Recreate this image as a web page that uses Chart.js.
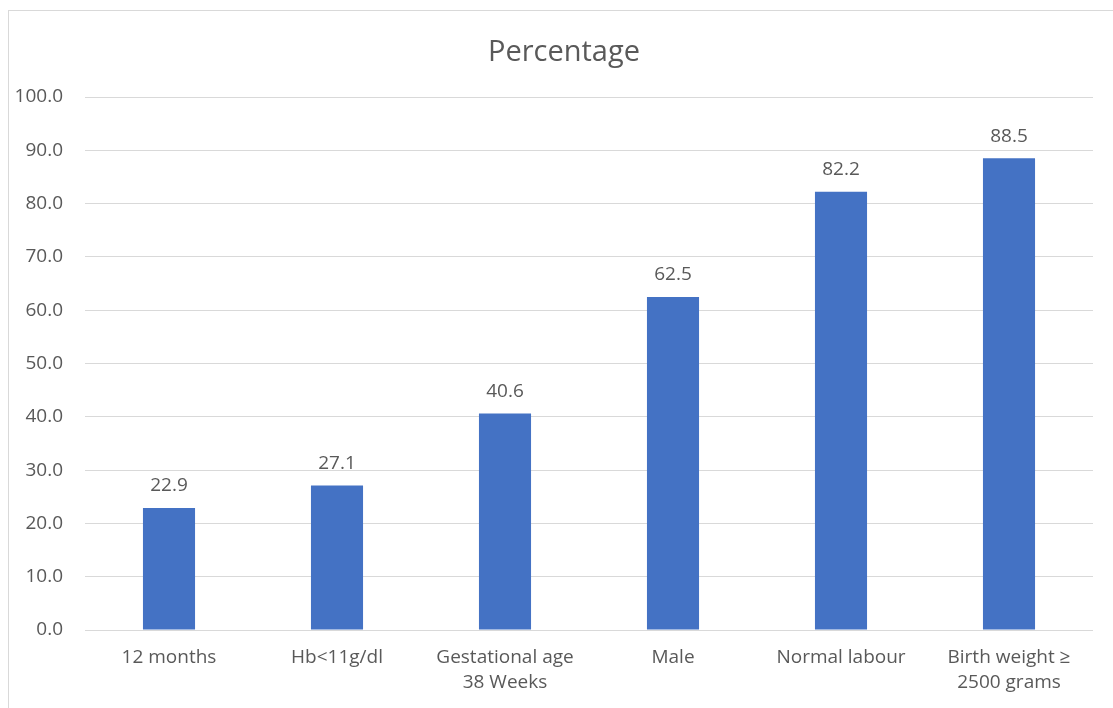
<!DOCTYPE html>
<html>
<head>
<meta charset="utf-8">
<script src="https://cdn.jsdelivr.net/npm/chart.js@4/dist/chart.umd.min.js"></script>
<style>
  html, body { margin: 0; padding: 0; background: #ffffff; overflow: hidden; }
  #wrap { position: relative; width: 1113px; height: 708px; }
  #frame { position: absolute; left: 8px; top: 10px; width: 1120px; height: 720px; border: 1px solid #d9d9d9; box-sizing: border-box; pointer-events: none; }
  canvas { position: absolute; left: 0; top: 0; }
</style>
</head>
<body>
<div id="wrap">
  <div id="frame"></div>
  <canvas id="chart" width="1113" height="708"></canvas>
</div>
<script>
const categories = [
  '12 months',
  'Hb<11g/dl',
  ['Gestational age', '38 Weeks'],
  'Male',
  'Normal labour',
  ['Birth weight \u2265', '2500 grams']
];
const percentages = [22.9, 27.1, 40.6, 62.5, 82.2, 88.5];
const chartTitle = 'Percentage';

const TEXT = '#595959';
const FONT = "'Open Sans', 'Liberation Sans', sans-serif";

// Heading centred over the framed panel
const titlePlugin = {
  id: 'panelTitle',
  afterDraw(chart) {
    const ctx = chart.ctx;
    ctx.save();
    ctx.fillStyle = TEXT;
    ctx.font = '29px ' + FONT;
    ctx.textAlign = 'center';
    ctx.textBaseline = 'alphabetic';
    ctx.fillText(chartTitle, 564, 61);
    ctx.restore();
  }
};

// Value printed above each bar
const valueLabels = {
  id: 'valueLabels',
  afterDatasetsDraw(chart) {
    const ctx = chart.ctx;
    const meta = chart.getDatasetMeta(0);
    const data = chart.data.datasets[0].data;
    ctx.save();
    ctx.fillStyle = TEXT;
    ctx.font = '19px ' + FONT;
    ctx.textAlign = 'center';
    ctx.textBaseline = 'middle';
    meta.data.forEach((bar, i) => {
      ctx.fillText(data[i].toFixed(1), bar.x, bar.y - 22);
    });
    ctx.restore();
  }
};

new Chart(document.getElementById('chart'), {
  type: 'bar',
  data: {
    labels: categories,
    datasets: [{
      data: percentages,
      backgroundColor: '#4472c4',
      borderWidth: 0,
      categoryPercentage: 1,
      barPercentage: 0.31
    }]
  },
  options: {
    responsive: false,
    animation: false,
    layout: { padding: { top: 97, right: 20, bottom: 0, left: 0 } },
    plugins: {
      legend: { display: false },
      title: { display: false },
      tooltip: { enabled: false }
    },
    scales: {
      x: {
        grid: { display: false, drawTicks: false },
        border: { display: false },
        ticks: {
          color: TEXT,
          font: { family: FONT, size: 19, lineHeight: 1.32 },
          padding: 15,
          maxRotation: 0,
          autoSkip: false
        },
        afterFit(scale) { scale.height = 78; }
      },
      y: {
        min: 0,
        max: 100,
        grid: { color: '#d9d9d9', lineWidth: 1, drawTicks: false },
        border: { display: false },
        ticks: {
          stepSize: 10,
          color: TEXT,
          font: { family: FONT, size: 19 },
          padding: 22,
          callback: v => Number(v).toFixed(1)
        },
        afterFit(scale) { scale.width = 85; }
      }
    }
  },
  plugins: [titlePlugin, valueLabels]
});
</script>
</body>
</html>
